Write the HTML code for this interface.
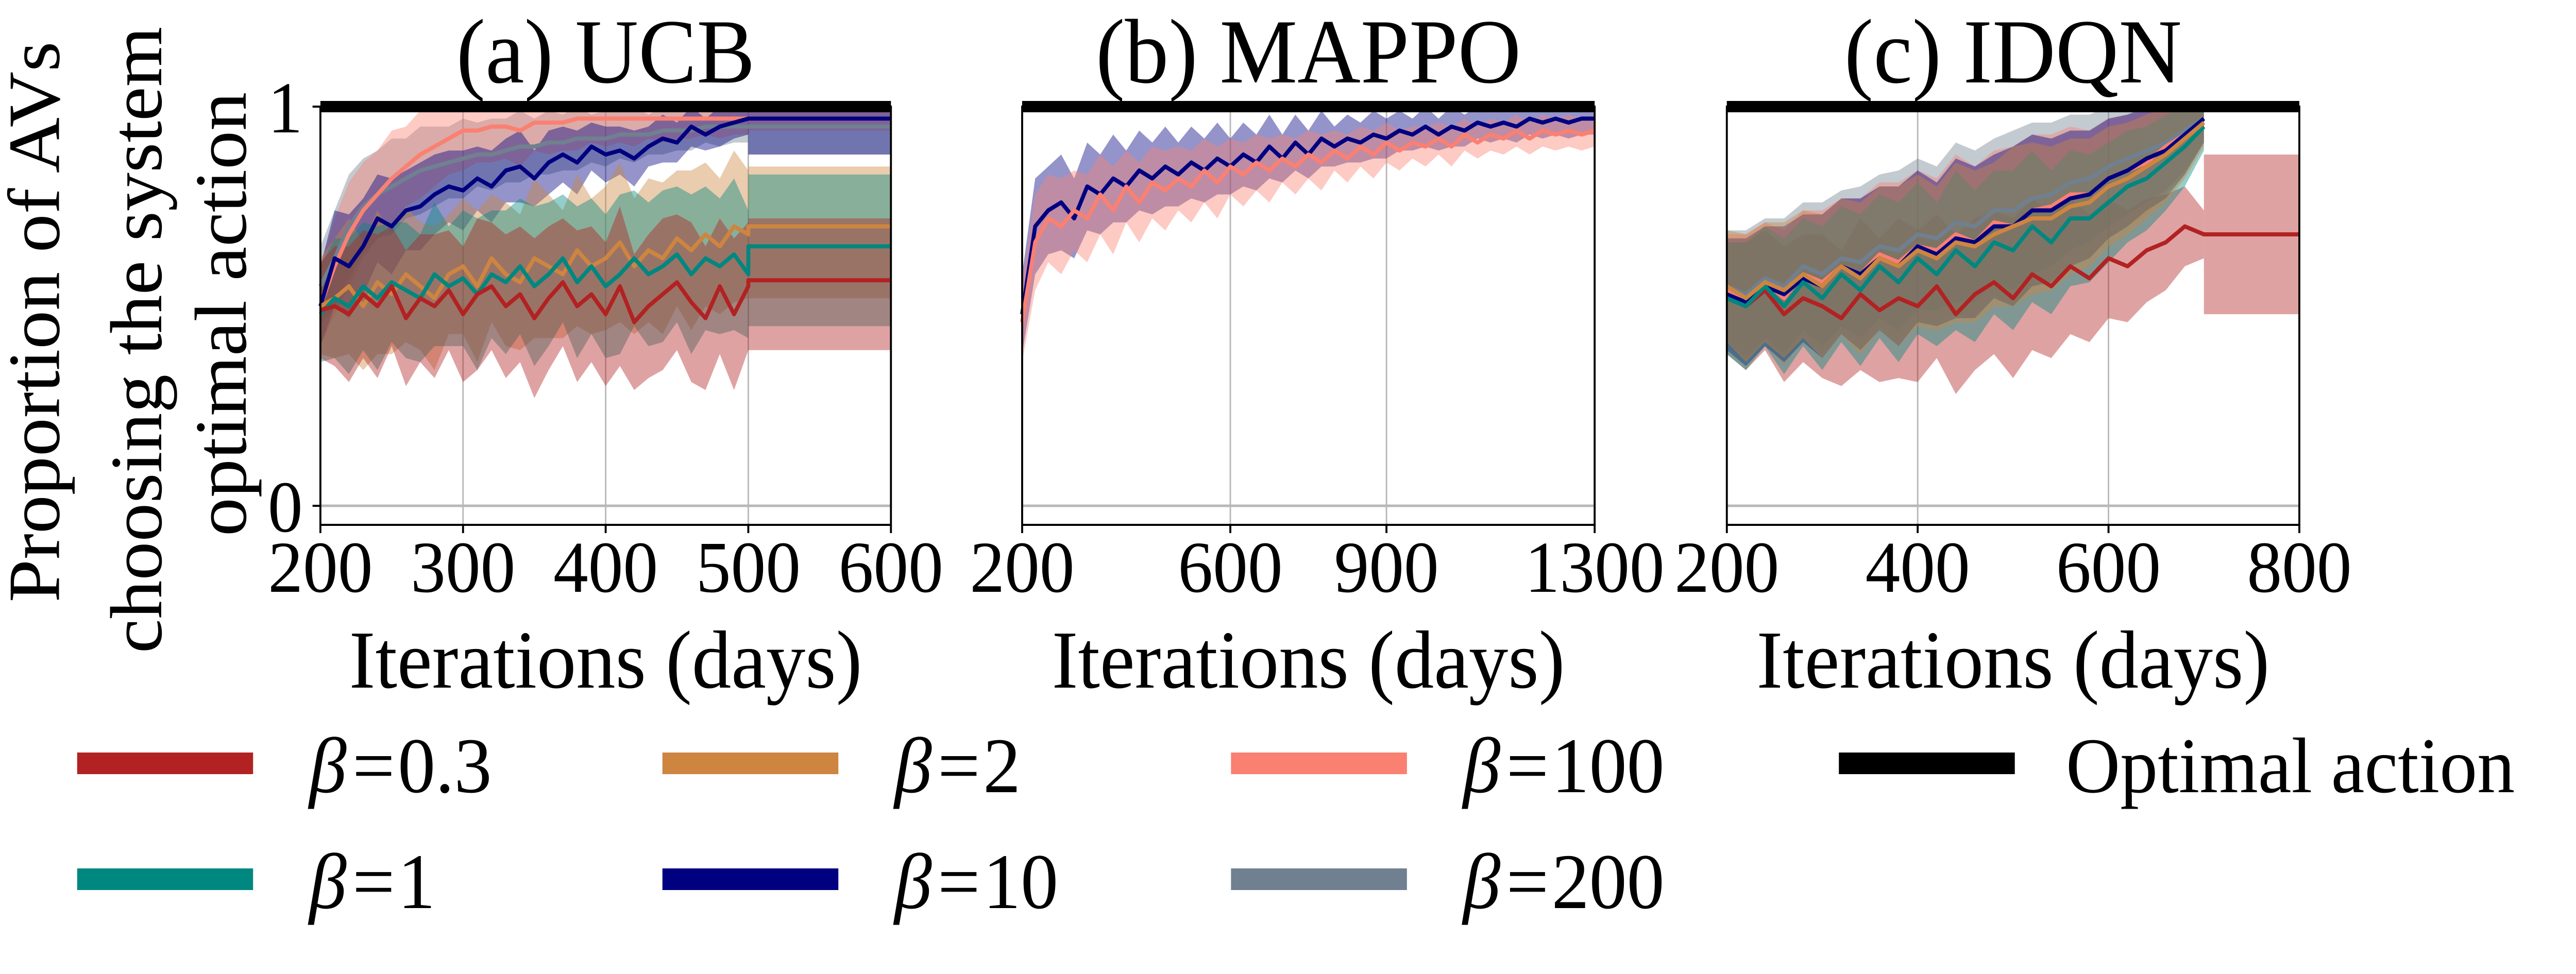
<!DOCTYPE html>
<html><head><meta charset="utf-8"><style>
html,body{margin:0;padding:0;background:#fff;overflow:hidden;width:100%;height:100%;}
svg{display:block;font-family:"Liberation Serif","DejaVu Serif",serif;width:100vw;height:100vh;}
</style></head><body>
<svg id="chart" viewBox="0 0 5242 1891" preserveAspectRatio="none" xmlns="http://www.w3.org/2000/svg">
<g font-size="150" text-anchor="middle">
<text transform="translate(120,625) rotate(-90)">Proportion of AVs</text>
<text transform="translate(328,660) rotate(-90)">choosing the system</text>
<text transform="translate(500,610) rotate(-90)">optimal action</text>
</g>
<g id="panels"></g>
<g id="legend"></g>
</svg>
<script>
// ---- data ----
const aX = [200,210,220,230,240,250,260,270,280,290,300,310,320,330,340,350,360,370,380,390,400,410,420,430,440,450,460,470,480,490,500];
const aRed    = [0.49,0.50,0.48,0.53,0.50,0.55,0.47,0.52,0.50,0.54,0.48,0.53,0.55,0.50,0.53,0.47,0.52,0.56,0.50,0.53,0.48,0.55,0.46,0.50,0.53,0.56,0.51,0.47,0.55,0.48,0.55];
const aTeal   = [0.48,0.52,0.50,0.55,0.52,0.56,0.54,0.52,0.58,0.55,0.57,0.53,0.58,0.56,0.60,0.55,0.58,0.62,0.56,0.60,0.55,0.58,0.62,0.58,0.60,0.63,0.58,0.62,0.60,0.63,0.58];
const aOrange = [0.50,0.52,0.55,0.50,0.56,0.53,0.58,0.55,0.52,0.58,0.60,0.55,0.62,0.58,0.56,0.62,0.60,0.58,0.64,0.60,0.62,0.66,0.60,0.64,0.62,0.67,0.64,0.68,0.65,0.70,0.68];
const aNavy   = [0.50,0.62,0.60,0.65,0.72,0.70,0.74,0.75,0.78,0.80,0.79,0.82,0.80,0.84,0.85,0.82,0.86,0.88,0.86,0.90,0.88,0.89,0.87,0.90,0.92,0.91,0.95,0.93,0.95,0.96,0.97];
const aSalmon = [0.50,0.60,0.68,0.74,0.78,0.82,0.85,0.88,0.90,0.92,0.94,0.94,0.95,0.95,0.94,0.96,0.96,0.96,0.97,0.97,0.97,0.97,0.97,0.97,0.97,0.97,0.97,0.97,0.97,0.97,0.97];
const aGray   = [0.55,0.62,0.70,0.75,0.78,0.80,0.82,0.84,0.85,0.86,0.87,0.88,0.88,0.89,0.90,0.90,0.91,0.91,0.92,0.92,0.92,0.93,0.93,0.93,0.94,0.94,0.94,0.95,0.95,0.95,0.95];
const aWideHW = [0.12,0.15,0.17,0.16,0.18,0.15,0.17,0.16,0.18,0.15,0.17,0.19,0.16,0.18,0.17,0.20,0.18,0.16,0.19,0.17,0.18,0.20,0.17,0.18,0.19,0.17,0.20,0.18,0.17,0.19,0.16];
const aNarrowHW = [0.10,0.12,0.13,0.12,0.11,0.12,0.10,0.11,0.10,0.09,0.10,0.08,0.09,0.08,0.09,0.07,0.08,0.07,0.08,0.06,0.07,0.06,0.07,0.05,0.06,0.05,0.05,0.04,0.05,0.04,0.04];
const aFlatMean = [0.565,0.65,0.70,0.97,0.97,0.95];
const aFlatLo   = [0.39,0.45,0.52,0.88,0.94,0.88];
const aFlatHi   = [0.72,0.83,0.85,1.00,1.00,1.00];

const bX = [200,225,250,275,300,325,350,375,400,425,450,475,500,525,550,575,600,625,650,675,700,725,750,775,800,825,850,875,900,925,950,975,1000,1025,1050,1075,1100,1125,1150,1175,1200,1225,1250,1275,1300];
const bNavy   = [0.48,0.70,0.74,0.76,0.72,0.80,0.78,0.82,0.80,0.84,0.82,0.85,0.83,0.86,0.84,0.87,0.85,0.88,0.86,0.90,0.87,0.91,0.88,0.92,0.90,0.92,0.91,0.93,0.92,0.94,0.93,0.95,0.93,0.95,0.94,0.96,0.95,0.96,0.95,0.97,0.96,0.97,0.96,0.97,0.97];
const bSalmon = [0.46,0.66,0.72,0.70,0.74,0.72,0.78,0.74,0.80,0.76,0.81,0.79,0.82,0.80,0.84,0.81,0.85,0.83,0.86,0.84,0.87,0.85,0.88,0.86,0.89,0.87,0.90,0.88,0.91,0.89,0.91,0.90,0.92,0.90,0.93,0.91,0.93,0.92,0.94,0.92,0.94,0.93,0.94,0.93,0.94];
const bHW     = [0.10,0.12,0.11,0.12,0.10,0.11,0.10,0.11,0.09,0.10,0.09,0.10,0.08,0.09,0.08,0.09,0.07,0.08,0.07,0.08,0.06,0.07,0.06,0.07,0.05,0.06,0.05,0.06,0.05,0.05,0.04,0.05,0.04,0.05,0.04,0.04,0.04,0.04,0.04,0.04,0.04,0.04,0.04,0.04,0.04];

const cX = [200,220,240,260,280,300,320,340,360,380,400,420,440,460,480,500,520,540,560,580,600,620,640,660,680,700];
const cRed    = [0.52,0.50,0.54,0.48,0.52,0.50,0.47,0.53,0.49,0.52,0.50,0.55,0.48,0.53,0.56,0.52,0.58,0.55,0.60,0.57,0.62,0.60,0.64,0.66,0.70,0.68];
const cTeal   = [0.52,0.50,0.55,0.50,0.56,0.52,0.58,0.54,0.60,0.56,0.62,0.58,0.64,0.60,0.66,0.64,0.70,0.66,0.72,0.72,0.76,0.80,0.82,0.86,0.90,0.95];
const cOrange = [0.55,0.52,0.56,0.54,0.58,0.55,0.60,0.57,0.62,0.60,0.64,0.62,0.66,0.65,0.68,0.70,0.72,0.72,0.75,0.76,0.80,0.82,0.85,0.88,0.92,0.96];
const cNavy   = [0.53,0.51,0.55,0.53,0.57,0.55,0.60,0.58,0.62,0.60,0.65,0.63,0.67,0.66,0.70,0.70,0.74,0.74,0.77,0.78,0.82,0.84,0.87,0.89,0.93,0.97];
const cSalmon = [0.54,0.52,0.56,0.52,0.58,0.56,0.60,0.58,0.63,0.61,0.65,0.64,0.68,0.66,0.71,0.70,0.74,0.75,0.78,0.78,0.82,0.84,0.86,0.90,0.93,0.97];
const cGray   = [0.55,0.53,0.57,0.55,0.60,0.58,0.62,0.61,0.65,0.64,0.68,0.67,0.71,0.70,0.74,0.74,0.77,0.78,0.81,0.82,0.85,0.87,0.89,0.91,0.94,0.97];
const cHW     = [0.14,0.16,0.15,0.17,0.16,0.18,0.17,0.19,0.18,0.20,0.19,0.18,0.20,0.19,0.18,0.20,0.19,0.18,0.17,0.16,0.15,0.14,0.13,0.12,0.10,0.06];
const cRedFlat = [0.68,0.48,0.88];

const aTicks = [200,300,400,500,600];
const bTicks = [200,600,900,1300];
const cTicks = [200,400,600,800];
const legendLabels = ["0.3","1","2","10","100","200"];

// ---- styling ----
const COL = {red:"#b22222",teal:"#00877f",orange:"#cd853f",navy:"#000080",salmon:"#fa8072",gray:"#708090"};
const NS = "http://www.w3.org/2000/svg";
const TOP = 207, Y0 = 982, BOT = 1019;
function yv(v){ return Y0 - v*(Y0-TOP); }
function mk(tag, attrs, parent){
  const e = document.createElementNS(NS, tag);
  for (const k in attrs) e.setAttribute(k, attrs[k]);
  parent.appendChild(e);
  return e;
}
const panelsG = document.getElementById('panels');

function drawPanel(p){
  const g = mk('g', {}, panelsG);
  
  
  const xs = v => p.L + (v - p.xmin)/(p.xmax - p.xmin)*(p.R - p.L);
  p.ticks.forEach(t => {
    const l = mk('line', {x1:xs(t), x2:xs(t), y1:TOP, y2:BOT, stroke:'#b8b8b8', 'stroke-width':3}, g);
    
    
  });
  const hg = mk('line', {x1:p.L, x2:p.R, y1:Y0, y2:Y0, stroke:'#b8b8b8', 'stroke-width':5}, g);
  
  
  p.series.forEach(s => {
    let pts = s.x.map((x,i)=>[xs(x), yv(Math.min(1, s.m[i]+s.hw[i]))]);
    let low = s.x.map((x,i)=>[xs(x), yv(Math.max(0, s.m[i]-s.hw[i]))]).reverse();
    const d = 'M' + pts.concat(low).map(q=>q[0].toFixed(1)+','+q[1].toFixed(1)).join('L') + 'Z';
    const b = mk('path', {d:d, fill:s.c, 'fill-opacity':0.42, stroke:'none'}, g);
    
    
    if (s.flat) {
      const x1 = xs(s.x[s.x.length-1]), x2 = xs(p.xmax);
      const r = mk('rect', {x:x1, y:yv(s.flat[2]), width:x2-x1, height:yv(s.flat[1])-yv(s.flat[2]), fill:s.c, 'fill-opacity':0.42}, g);
      
      
    }
  });
  p.series.forEach(s => {
    const pts = s.x.map((x,i)=>[xs(x), yv(s.m[i])]);
    if (s.flat) { pts.push([xs(s.x[s.x.length-1]), yv(s.flat[0])]); pts.push([xs(p.xmax), yv(s.flat[0])]); }
    const l = mk('polyline', {points:pts.map(q=>q[0].toFixed(1)+','+q[1].toFixed(1)).join(' '), fill:'none', stroke:s.c, 'stroke-width':8, 'stroke-linejoin':'round'}, g);
    
    
  });
  const sp = mk('rect', {x:p.L, y:TOP, width:p.R-p.L, height:BOT-TOP, fill:'none', stroke:'#000', 'stroke-width':4}, g);
  
  
  const op = mk('line', {x1:p.L, x2:p.R, y1:yv(1), y2:yv(1), stroke:'#000', 'stroke-width':22}, g);
  
  
  p.ticks.forEach(t => {
    const tk = mk('line', {x1:xs(t), x2:xs(t), y1:BOT, y2:BOT+16, stroke:'#000', 'stroke-width':4}, g);
    
    
    const tl = mk('text', {x:xs(t), y:1149, 'font-size':142, 'text-anchor':'middle'}, g);
    
    
    tl.textContent = t;
  });
  if (p.yTicks) {
    [1,0].forEach(v => {
      const tk = mk('line', {x1:p.L-16, x2:p.L, y1:yv(v), y2:yv(v), stroke:'#000', 'stroke-width':4}, g);
      
      
      const tl = mk('text', {x:p.L-36, y:yv(v)+50, 'font-size':142, 'text-anchor':'end'}, g);
      
      
      tl.textContent = v;
    });
  }
  const ti = mk('text', {x:(p.L+p.R)/2, y:160, 'font-size':178, 'text-anchor':'middle'}, g);
  
  
  ti.textContent = p.title;
  const xl = mk('text', {x:(p.L+p.R)/2, y:1335, 'font-size':160, 'text-anchor':'middle'}, g);
  
  
  xl.textContent = 'Iterations (days)';
}

drawPanel({key:'ucb', title:'(a) UCB', L:652, R:1813, xmin:200, xmax:600, ticks:aTicks, yTicks:true, series:[
  {name:'beta-200', c:COL.gray, x:aX, m:aGray, hw:aNarrowHW, flat:[aFlatMean[5],aFlatLo[5],aFlatHi[5]]},
  {name:'beta-100', c:COL.salmon, x:aX, m:aSalmon, hw:aNarrowHW, flat:[aFlatMean[4],aFlatLo[4],aFlatHi[4]]},
  {name:'beta-10', c:COL.navy, x:aX, m:aNavy, hw:aNarrowHW, flat:[aFlatMean[3],aFlatLo[3],aFlatHi[3]]},
  {name:'beta-2', c:COL.orange, x:aX, m:aOrange, hw:aWideHW, flat:[aFlatMean[2],aFlatLo[2],aFlatHi[2]]},
  {name:'beta-1', c:COL.teal, x:aX, m:aTeal, hw:aWideHW, flat:[aFlatMean[1],aFlatLo[1],aFlatHi[1]]},
  {name:'beta-0.3', c:COL.red, x:aX, m:aRed, hw:aWideHW, flat:[aFlatMean[0],aFlatLo[0],aFlatHi[0]]}
]});
drawPanel({key:'mappo', title:'(b) MAPPO', L:2080, R:3245, xmin:200, xmax:1300, ticks:bTicks, yTicks:false, series:[
  {name:'beta-10', c:COL.navy, x:bX, m:bNavy, hw:bHW},
  {name:'beta-100', c:COL.salmon, x:bX, m:bSalmon, hw:bHW}
]});
drawPanel({key:'idqn', title:'(c) IDQN', L:3514, R:4679, xmin:200, xmax:800, ticks:cTicks, yTicks:false, series:[
  {name:'beta-0.3', c:COL.red, x:cX, m:cRed, hw:cHW, flat:cRedFlat},
  {name:'beta-200', c:COL.gray, x:cX, m:cGray, hw:cHW},
  {name:'beta-100', c:COL.salmon, x:cX, m:cSalmon, hw:cHW},
  {name:'beta-10', c:COL.navy, x:cX, m:cNavy, hw:cHW},
  {name:'beta-1', c:COL.teal, x:cX, m:cTeal, hw:cHW},
  {name:'beta-2', c:COL.orange, x:cX, m:cOrange, hw:cHW}
]});

const lg = document.getElementById('legend');
const legCols = [COL.red, COL.teal, COL.orange, COL.navy, COL.salmon, COL.gray];
const colX = [157, 1348, 2505];
const rowY = [1461, 1686];
legendLabels.forEach((lab, i) => {
  const col = Math.floor(i/2), row = i%2;
  const g = mk('g', {}, lg);
  
  
  mk('rect', {x:colX[col], y:rowY[row], width:358, height:42, fill:legCols[i]}, g);
  const t = mk('text', {x:colX[col]+472, y:rowY[row]+77, 'font-size':153}, g);
  t.innerHTML = '<tspan font-style="italic">β</tspan><tspan dx="12">=</tspan><tspan dx="6">' + lab + '</tspan>';
});
const og = mk('g', {}, lg);


mk('rect', {x:3742, y:1461, width:358, height:42, fill:'#000'}, og);
const ot = mk('text', {x:4204, y:1538, 'font-size':153}, og);
ot.textContent = 'Optimal action';
</script>
</body></html>
